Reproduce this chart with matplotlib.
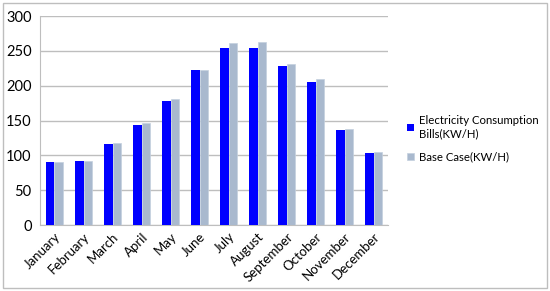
import numpy as np
from matplotlib import pyplot as plt
from matplotlib.patches import Rectangle

plt.rcParams['font.family'] = ['Lato', 'DejaVu Sans']

months = ["January", "February", "March", "April", "May", "June", "July",
          "August", "September", "October", "November", "December"]
bills = [90, 92, 117, 144, 178, 223, 254, 254, 228, 206, 137, 104]
base_case = [91, 92, 118, 146, 181, 223, 262, 263, 231, 210, 138, 105]

fig = plt.figure(figsize=(5.5, 2.91), dpi=100)
ax = fig.add_axes([0.0727, 0.2268, 0.633, 0.718])

x = np.arange(len(months))
w = 0.29
ax.bar(x - w / 2, bills, w, color='#0000FF', label="Electricity Consumption\nBills(KW/H)", zorder=3)
ax.bar(x + w / 2, base_case, w, color='#A9B9CE', edgecolor='#C4D0DE', linewidth=0.5,
       label="Base Case(KW/H)", zorder=3)

ax.set_xlim(-0.5, len(months) - 0.5)
ax.set_ylim(0, 300)
ax.set_yticks(range(0, 301, 50))
ax.yaxis.grid(True, color='#BEBEBE', linewidth=1, zorder=0)

for s in ['top', 'right']:
    ax.spines[s].set_visible(False)
ax.spines['left'].set_color('#BEBEBE')
ax.spines['bottom'].set_color('#BEBEBE')
ax.tick_params(length=0, colors='black')
ax.tick_params(axis='y', pad=6, labelsize=10.5)
ax.tick_params(axis='x', pad=4)
ax.set_xticks(x)
ax.set_xticklabels(months, rotation=45, ha='right', rotation_mode='anchor', fontsize=9.5)

fig.legend(loc='upper left', bbox_to_anchor=(0.722, 0.64), frameon=False, fontsize=8.2,
           handlelength=0.6, handleheight=0.6, handletextpad=0.4, labelspacing=1.1)

# outer border
fig.patches.append(Rectangle((0.006, 0.012), 0.988, 0.976, transform=fig.transFigure,
                             fill=False, edgecolor='#BEBEBE', linewidth=1))

plt.savefig("out.png", dpi=100)
